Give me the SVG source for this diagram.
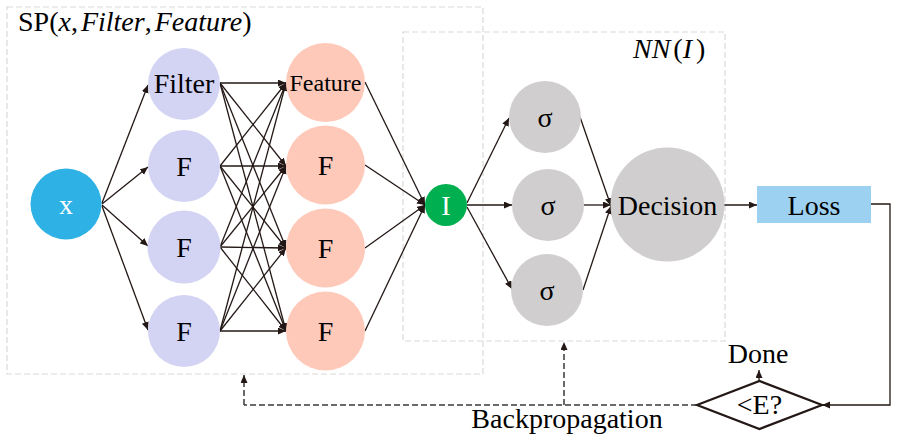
<svg xmlns="http://www.w3.org/2000/svg" width="898" height="437" viewBox="0 0 898 437">
<defs>
<marker id="ah" markerUnits="userSpaceOnUse" markerWidth="9" markerHeight="8" refX="8" refY="3.5" orient="auto">
<path d="M0,0 L8,3.5 L0,7 z" fill="#231815"/>
</marker>
<style>
.box{fill:none;stroke:#D9D9D9;stroke-width:1.2;stroke-dasharray:6 3}
.t{font-family:"Liberation Serif","Times New Roman",serif;font-size:28px;fill:#000;text-anchor:middle}
.w{fill:#fff}
.c{fill:none;stroke:#231815;stroke-width:1.3;marker-end:url(#ah)}
.bp{fill:none;stroke:#3a3a3a;stroke-width:1.5;stroke-dasharray:6 3}
.bpa{fill:none;stroke:#3a3a3a;stroke-width:1.5;stroke-dasharray:6 3;marker-end:url(#ah)}
.fil{fill:#D3D3F3}
.fea{fill:#FFC9B9}
.gry{fill:#D0CECE}
</style>
</defs>
<rect width="898" height="437" fill="#fff"/>
<g id="sp-box">
<rect class="box" x="7" y="7" width="476" height="367"/>
<text x="18" y="31" style="font-family:'Liberation Serif','Times New Roman',serif;font-size:28px"><tspan>SP(</tspan><tspan font-style="italic">x</tspan><tspan>,</tspan><tspan font-style="italic" dx="3">Filter</tspan><tspan>,</tspan><tspan font-style="italic" dx="3">Feature</tspan><tspan>)</tspan></text>
</g>
<g id="nn-box">
<rect class="box" x="403" y="32" width="322" height="309"/>
<text x="633" y="58" style="font-family:'Liberation Serif','Times New Roman',serif;font-size:28px;font-style:italic">NN<tspan font-style="normal" dx="3">(</tspan>I<tspan font-style="normal" dx="4">)</tspan></text>
</g>
<g id="connectors">
<path class="c" d="M102,203 L148,85"/>
<path class="c" d="M102,204 L148,167"/>
<path class="c" d="M102,205 L148,246"/>
<path class="c" d="M102,206 L148,330"/>
<path class="c" d="M220,83 L286,83"/>
<path class="c" d="M220,83 L286,166"/>
<path class="c" d="M220,83 L286,248"/>
<path class="c" d="M220,83 L286,331"/>
<path class="c" d="M220,166 L286,83"/>
<path class="c" d="M220,166 L286,166"/>
<path class="c" d="M220,166 L286,248"/>
<path class="c" d="M220,166 L286,331"/>
<path class="c" d="M220,247 L286,83"/>
<path class="c" d="M220,247 L286,166"/>
<path class="c" d="M220,247 L286,248"/>
<path class="c" d="M220,247 L286,331"/>
<path class="c" d="M220,331 L286,83"/>
<path class="c" d="M220,331 L286,166"/>
<path class="c" d="M220,331 L286,248"/>
<path class="c" d="M220,331 L286,331"/>
<path class="c" d="M365,82 L425,205"/>
<path class="c" d="M365,165 L425,205"/>
<path class="c" d="M365,248 L425,205"/>
<path class="c" d="M365,331 L425,205"/>
<path class="c" d="M467,203 L509,118"/>
<path class="c" d="M467,205 L512,205"/>
<path class="c" d="M467,207 L512,289"/>
<path class="c" d="M580,117 L611,206"/>
<path class="c" d="M584,205 L611,205"/>
<path class="c" d="M583,290 L611,206"/>
<path class="c" d="M724,205 L757,205"/>
<path class="c" d="M871,204 L890,204 L890,405 L822,405"/>
<path class="c" d="M759,381 L759,370"/>
<path class="bp" d="M697,405 L244,405"/>
<path class="bpa" d="M244,405 L244,375"/>
<path class="bpa" d="M564,405 L564,342"/>
</g>
<g id="node-x">
<circle cx="66" cy="204" r="35.5" fill="#2EB1E5"/>
<text class="t w" x="66" y="214">x</text>
</g>
<g id="node-filter">
<circle class="fil" cx="184" cy="84" r="36"/>
<text class="t" x="184" y="93">Filter</text>
</g>
<g id="node-f1">
<circle class="fil" cx="184" cy="166" r="36"/>
<text class="t" x="184" y="176">F</text>
</g>
<g id="node-f2">
<circle class="fil" cx="184" cy="247" r="36.5"/>
<text class="t" x="184" y="257">F</text>
</g>
<g id="node-f3">
<circle class="fil" cx="184" cy="331" r="36"/>
<text class="t" x="184" y="341">F</text>
</g>
<g id="node-feature">
<circle class="fea" cx="325.5" cy="82.5" r="39.5"/>
<text class="t" x="325.5" y="91" style="font-size:24px">Feature</text>
</g>
<g id="node-g1">
<circle class="fea" cx="325.5" cy="165" r="39.5"/>
<text class="t" x="325.5" y="175">F</text>
</g>
<g id="node-g2">
<circle class="fea" cx="325.5" cy="248" r="39.5"/>
<text class="t" x="325.5" y="258">F</text>
</g>
<g id="node-g3">
<circle class="fea" cx="325.5" cy="331" r="39.5"/>
<text class="t" x="325.5" y="341">F</text>
</g>
<g id="node-i">
<circle cx="446" cy="205" r="21" fill="#00B050"/>
<text class="t w" x="446" y="215">I</text>
</g>
<g id="node-s1">
<circle class="gry" cx="545" cy="117" r="36"/>
<text class="t" x="545" y="127">σ</text>
</g>
<g id="node-s2">
<circle class="gry" cx="548" cy="205" r="36"/>
<text class="t" x="548" y="215">σ</text>
</g>
<g id="node-s3">
<circle class="gry" cx="547" cy="290" r="36"/>
<text class="t" x="547" y="300">σ</text>
</g>
<g id="node-decision">
<circle class="gry" cx="667.5" cy="204.5" r="57"/>
<text class="t" x="667.5" y="215">Decision</text>
</g>
<g id="node-loss">
<rect x="757" y="186" width="114" height="37" fill="#9DD1F1"/>
<text class="t" x="814" y="215">Loss</text>
</g>
<g id="node-check">
<path d="M697,405 L759.5,381 L822,405 L759.5,429 z" fill="#fff" stroke="#231815" stroke-width="2.2"/>
<text class="t" x="759.5" y="414">&lt;E?</text>
</g>
<g id="node-done">
<text class="t" x="758" y="363">Done</text>
</g>
<g id="label-bp">
<text class="t" x="567" y="428">Backpropagation</text>
</g>
</svg>
